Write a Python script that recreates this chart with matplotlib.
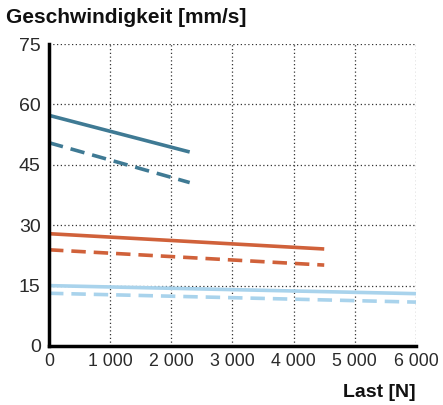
import matplotlib
matplotlib.use("Agg")
import matplotlib.pyplot as plt
from matplotlib.ticker import FuncFormatter

plt.rcParams['font.family'] = ['Liberation Sans', 'DejaVu Sans']

# Data
teal_x = [0, 2300]
teal_solid = [57.3, 48.2]
teal_dashed = [50.5, 40.6]

orange_x = [0, 4500]
orange_solid = [27.9, 24.1]
orange_dashed = [23.9, 20.1]

blue_x = [0, 6000]
blue_solid = [15.0, 13.0]
blue_dashed = [13.1, 10.9]

x_ticks = [0, 1000, 2000, 3000, 4000, 5000, 6000]
y_ticks = [0, 15, 30, 45, 60, 75]

teal = '#3f7a94'
orange = '#d0613a'
blue = '#a9d3ec'

fig = plt.figure(figsize=(4.43, 4.05), dpi=100)
ax = fig.add_axes([0.1106, 0.1457, 0.8284, 0.7454])

lw = 2.6
ax.plot(teal_x, teal_solid, color=teal, lw=lw, solid_capstyle='butt', clip_on=False)
ax.plot(teal_x, teal_dashed, color=teal, lw=lw, dashes=(4, 2.2), clip_on=False)
ax.plot(orange_x, orange_solid, color=orange, lw=lw, solid_capstyle='butt', clip_on=False)
ax.plot(orange_x, orange_dashed, color=orange, lw=lw, dashes=(4, 2.2), clip_on=False)
ax.plot(blue_x, blue_solid, color=blue, lw=lw, solid_capstyle='butt', clip_on=False)
ax.plot(blue_x, blue_dashed, color=blue, lw=lw, dashes=(4, 2.2), clip_on=False)

ax.set_xlim(0, 6000)
ax.set_ylim(0, 75)
ax.set_xticks(x_ticks)
ax.set_yticks(y_ticks)
ax.xaxis.set_major_formatter(FuncFormatter(lambda v, p: f"{int(v):,}".replace(',', ' ')))

ax.grid(True, linestyle=(0, (1, 2)), color='#333333', lw=0.9)
ax.set_axisbelow(True)
for s in ['top', 'right']:
    ax.spines[s].set_visible(False)
for s in ['left', 'bottom']:
    ax.spines[s].set_linewidth(2.5)
    ax.spines[s].set_color('black')

ax.tick_params(axis='both', length=0, colors='#2a2a2a')
ax.tick_params(axis='y', labelsize=14, pad=6)
ax.tick_params(axis='x', labelsize=12.8, pad=5)

fig.text(0.014, 0.957, 'Geschwindigkeit [mm/s]', fontsize=15, fontweight='bold',
         ha='left', va='center', color='#111111')
fig.text(0.939, 0.03, 'Last [N]', fontsize=14, fontweight='bold',
         ha='right', va='center', color='#111111')

fig.savefig('out.png', dpi=100)
